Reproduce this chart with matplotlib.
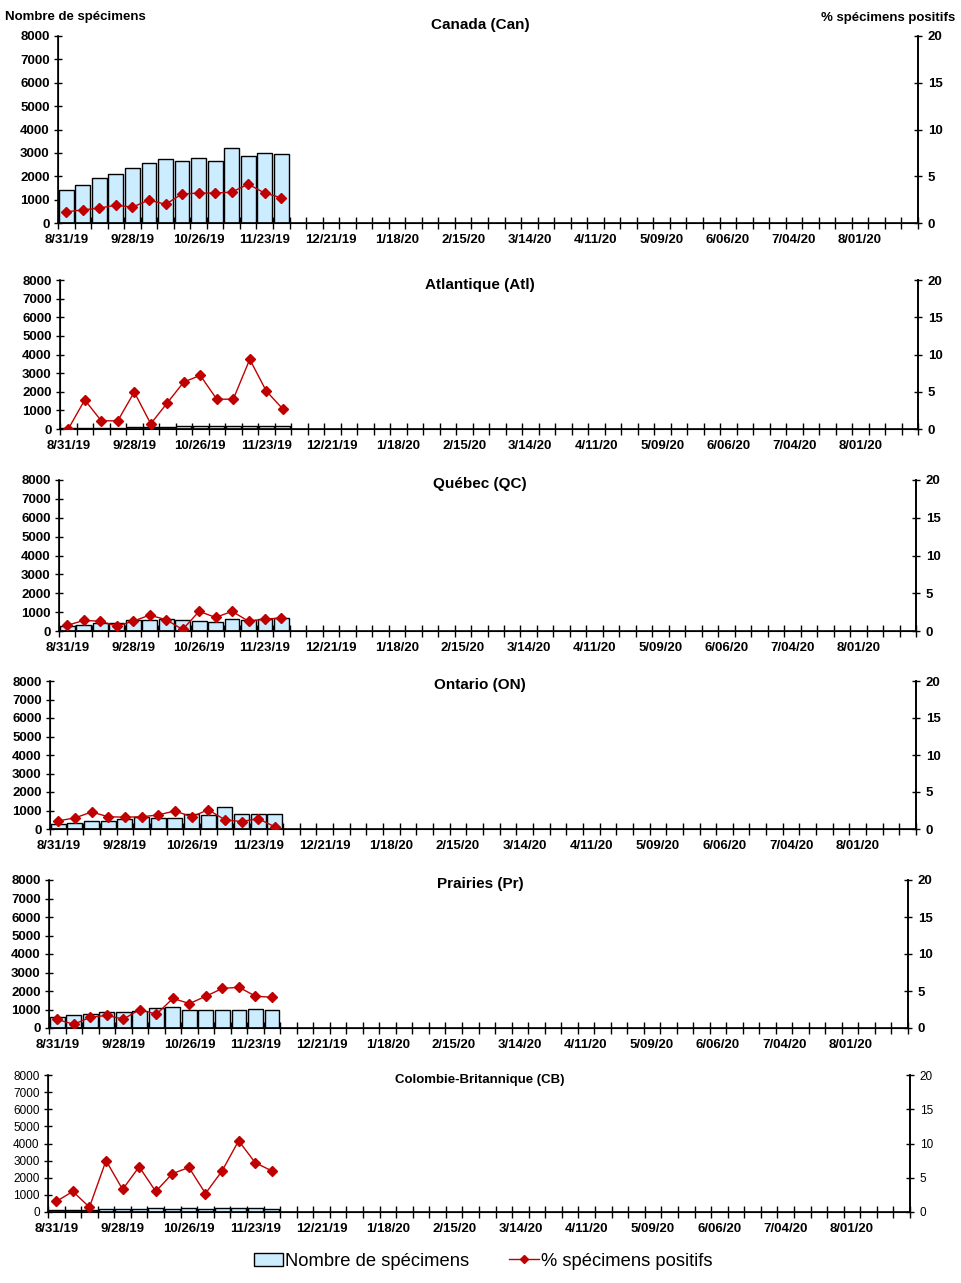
import numpy as np
import matplotlib
matplotlib.use("Agg")
import matplotlib.pyplot as plt
from matplotlib.lines import Line2D
from matplotlib.patches import Patch

plt.rcParams['font.family'] = ['Liberation Sans', 'DejaVu Sans']

N_WEEKS = 52
date_labels = ["8/31/19", "9/28/19", "10/26/19", "11/23/19", "12/21/19", "1/18/20",
               "2/15/20", "3/14/20", "4/11/20", "5/09/20", "6/06/20", "7/04/20", "8/01/20"]

titles = ["Canada (Can)", "Atlantique (Atl)", "Québec (QC)", "Ontario (ON)",
          "Prairies (Pr)", "Colombie-Britannique (CB)"]

can_n = [1400, 1620, 1920, 2080, 2340, 2560, 2730, 2640, 2800, 2640, 3190, 2860, 2990, 2940]
can_p = [1.2, 1.4, 1.6, 1.9, 1.7, 2.45, 2.0, 3.1, 3.2, 3.2, 3.3, 4.15, 3.2, 2.7]
atl_n = [40, 50, 60, 70, 100, 110, 130, 170, 180, 170, 170, 180, 170, 170]
atl_p = [0.0, 3.9, 1.1, 1.1, 4.95, 0.7, 3.5, 6.3, 7.2, 4.0, 4.0, 9.35, 5.1, 2.7]
qc_n = [260, 320, 420, 430, 560, 580, 620, 560, 520, 470, 640, 560, 620, 680]
qc_p = [0.75, 1.4, 1.3, 0.65, 1.3, 2.1, 1.5, 0.2, 2.6, 1.8, 2.6, 1.3, 1.6, 1.7]
on_n = [270, 330, 430, 430, 550, 640, 590, 600, 820, 760, 1190, 820, 820, 820]
on_p = [1.1, 1.5, 2.3, 1.65, 1.6, 1.65, 1.9, 2.45, 1.65, 2.6, 1.25, 1.0, 1.4, 0.3]
pr_n = [620, 680, 780, 890, 890, 940, 1060, 1110, 1000, 1000, 950, 950, 1050, 950]
pr_p = [1.15, 0.5, 1.45, 1.7, 1.2, 2.5, 1.85, 4.0, 3.3, 4.3, 5.35, 5.5, 4.3, 4.15]
cb_n = [90, 130, 140, 150, 150, 190, 230, 190, 230, 190, 230, 230, 230, 190]
cb_p = [1.55, 3.0, 0.7, 7.5, 3.3, 6.6, 3.0, 5.6, 6.5, 2.7, 6.0, 10.4, 7.2, 6.0]

counts = [can_n, atl_n, qc_n, on_n, pr_n, cb_n]
pcts = [can_p, atl_p, qc_p, on_p, pr_p, cb_p]

W, H = 961, 1283
fig = plt.figure(figsize=(W / 100, H / 100), dpi=100)

# pixel boxes: left, right, top, bottom
boxes = [(58, 918, 36, 223), (60, 918, 280, 429), (59, 916, 480, 631),
         (50, 916, 681, 829), (49, 908, 880, 1028), (48, 910, 1075, 1212)]
title_y = [25, 285, 484, 685, 884, 1080]

BAR_COLOR = '#CCECFF'
RED = '#C00000'

for i, (l, r, t, b) in enumerate(boxes):
    ax = fig.add_axes([l / W, 1 - b / H, (r - l) / W, (b - t) / H])
    n = counts[i]
    p = pcts[i]
    x = np.arange(len(n))
    ax.bar(x, n, width=0.9, color=BAR_COLOR, edgecolor='black', linewidth=1.0, zorder=2)
    ax.set_xlim(-0.5, N_WEEKS - 0.5)
    ax.set_ylim(0, 8000)
    ax.set_yticks(np.arange(0, 8001, 1000))
    small = (i == 5)
    ax.tick_params(axis='y', direction='inout', length=6, width=1,
                   labelsize=8.5 if small else 9.5, pad=3)
    for lab in ax.get_yticklabels():
        lab.set_fontweight('normal' if small else 'bold')
    ax.set_xticks(np.arange(-0.5, N_WEEKS, 1.0))
    ax.set_xticklabels([])
    ax.tick_params(axis='x', which='major', direction='inout', length=8, width=1)
    ax.set_xticks(np.arange(0, N_WEEKS, 4), minor=True)
    ax.set_xticklabels(date_labels, minor=True, fontsize=9.5, fontweight='bold')
    ax.tick_params(axis='x', which='minor', length=0, pad=8)
    ax.spines['top'].set_visible(False)
    for s in ['left', 'bottom', 'right']:
        ax.spines[s].set_linewidth(1.2)

    ax2 = ax.twinx()
    ax2.plot(x, p, color=RED, marker='D', markersize=5, linewidth=1.0, zorder=3)
    ax2.set_ylim(0, 20)
    ax2.set_yticks(np.arange(0, 21, 5))
    ax2.tick_params(axis='y', direction='inout', length=6, width=1,
                    labelsize=8.5 if small else 9.5, pad=4)
    for lab in ax2.get_yticklabels():
        lab.set_fontweight('normal' if small else 'bold')
    ax2.spines['top'].set_visible(False)
    ax2.spines['right'].set_linewidth(1.2)

    fig.text(480 / W, 1 - title_y[i] / H, titles[i], ha='center', va='center',
             fontsize=9.5 if small else 11, fontweight='bold')

fig.text(5 / W, 1 - 17 / H, "Nombre de spécimens", ha='left', va='center',
         fontsize=9.5, fontweight='bold')
fig.text(955 / W, 1 - 18 / H, "% spécimens positifs", ha='right', va='center',
         fontsize=9.5, fontweight='bold')

handles = [Patch(facecolor=BAR_COLOR, edgecolor='black', linewidth=1.0),
           Line2D([0], [0], color=RED, marker='D', markersize=4, linewidth=1.0)]
fig.legend(handles, ["Nombre de spécimens", "% spécimens positifs"],
           loc='center', bbox_to_anchor=(483 / W, 1 - 1261 / H), ncol=2,
           frameon=False, fontsize=13.2, handlelength=1.6, handletextpad=0.1,
           columnspacing=2.2)

fig.savefig("out.png", dpi=100)
